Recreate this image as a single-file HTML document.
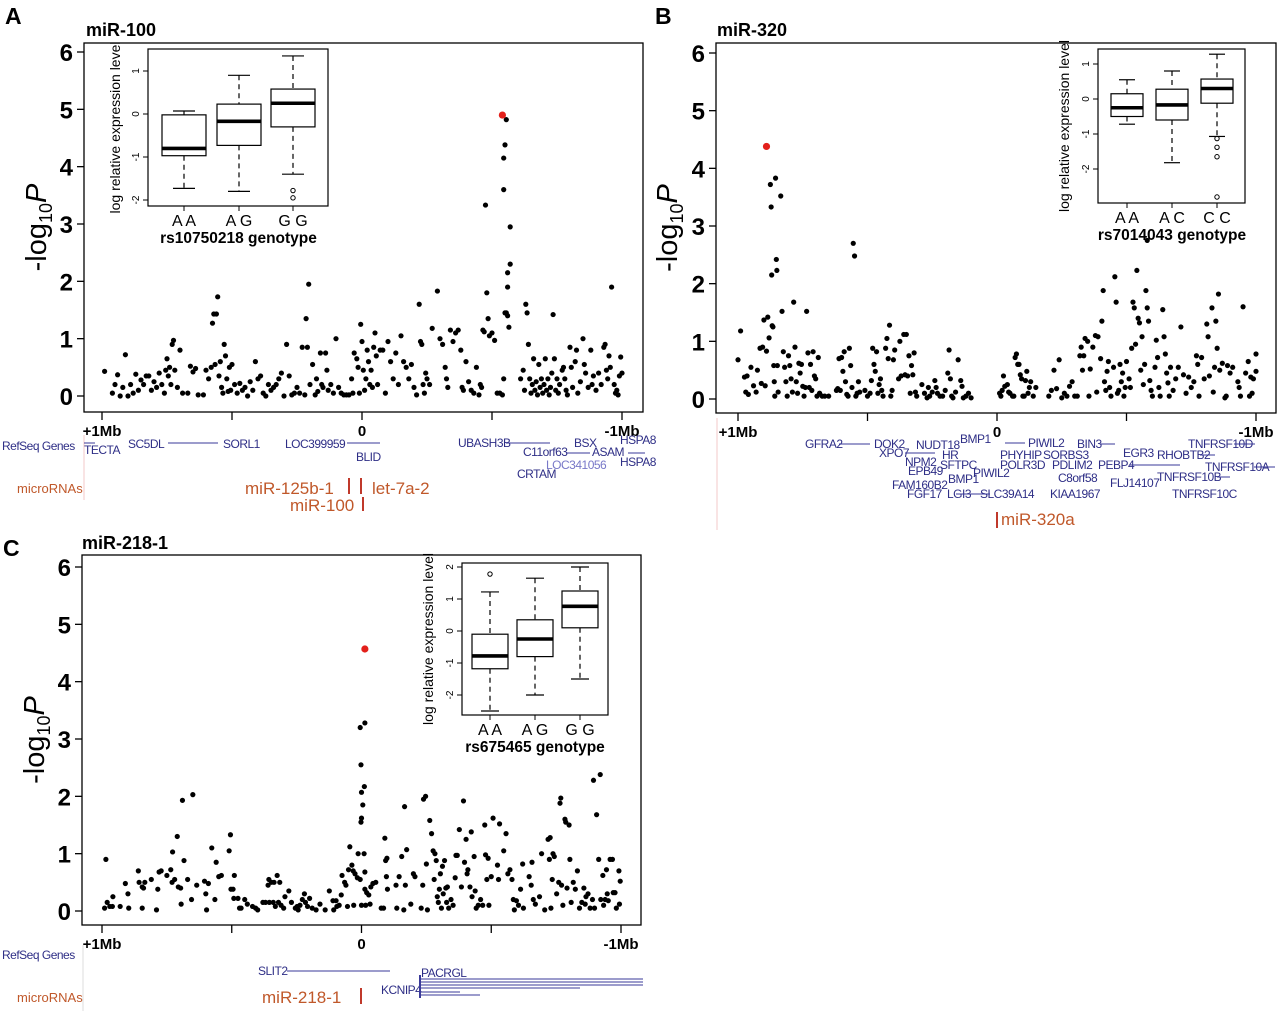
<!DOCTYPE html>
<html><head><meta charset="utf-8"><style>
html,body{margin:0;padding:0;background:#fff;}
svg{display:block;font-family:"Liberation Sans",sans-serif;}
.gene{fill:#2e2e86;font-size:12px;letter-spacing:-0.5px;}
.mir{fill:#c0582a;}
.tick{font-weight:bold;font-size:24px;}
.xl{font-weight:bold;font-size:15px;}
</style></head><body>
<svg id="fig" width="1280" height="1011" viewBox="0 0 1280 1011"></svg>
<script>
// ---- Panel A data: [position Mb, -log10P] ----
const panelAPoints=[[0.99,0.43],[0.96,0.05],[0.95,0.2],[0.94,0.37],[0.93,0.0],[0.92,0.15],[0.91,0.72],[0.9,0.0],[0.89,0.2],[0.88,0.05],[0.87,0.38],[0.86,0.1],[0.85,0.28],[0.84,0.2],[0.83,0.35],[0.82,0.35],[0.81,0.1],[0.80,0.25],[0.79,0.15],[0.78,0.4],[0.77,0.2],[0.76,0.05],[0.755,0.45],[0.75,0.65],[0.745,0.35],[0.74,0.5],[0.735,0.2],[0.73,0.9],[0.725,0.97],[0.72,0.45],[0.71,0.15],[0.70,0.8],[0.69,0.05],[0.67,0.05],[0.66,0.52],[0.65,0.42],[0.64,0.48],[0.63,0.02],[0.61,0.02],[0.60,0.45],[0.59,0.3],[0.58,0.5],[0.575,1.27],[0.57,1.43],[0.565,0.55],[0.56,1.43],[0.555,1.73],[0.55,0.35],[0.545,0.6],[0.54,0.15],[0.535,0.05],[0.53,0.9],[0.525,0.7],[0.52,0.3],[0.515,0.08],[0.51,0.5],[0.505,0.1],[0.50,0.55],[0.49,0.2],[0.48,0.05],[0.47,0.22],[0.46,0.1],[0.45,0.15],[0.44,0.0],[0.43,0.25],[0.42,0.1],[0.41,0.6],[0.40,0.3],[0.39,0.35],[0.38,0.05],[0.37,0.0],[0.36,0.2],[0.35,0.1],[0.34,0.15],[0.33,0.2],[0.32,0.3],[0.31,0.4],[0.30,0.0],[0.29,0.9],[0.28,0.35],[0.27,0.02],[0.26,0.05],[0.25,0.15],[0.24,0.05],[0.23,0.85],[0.22,0.02],[0.215,1.35],[0.21,0.85],[0.205,1.95],[0.20,0.2],[0.19,0.55],[0.18,0.02],[0.175,0.3],[0.17,0.08],[0.16,0.75],[0.155,0.2],[0.15,0.15],[0.14,0.75],[0.135,0.45],[0.13,0.1],[0.12,0.2],[0.11,0.05],[0.10,1.0],[0.09,0.15],[0.08,0.05],[0.07,0.02],[0.06,0.02],[0.05,0.02],[0.04,0.3],[0.035,0.05],[0.03,0.75],[0.02,0.65],[0.015,0.5],[0.01,0.05],[0.005,1.25],[0.0,0.95],[-0.005,0.45],[-0.01,0.1],[-0.015,0.3],[-0.02,0.8],[-0.025,0.6],[-0.03,0.2],[-0.035,0.45],[-0.04,0.15],[-0.045,0.85],[-0.05,1.1],[-0.055,0.7],[-0.06,0.2],[-0.07,0.8],[-0.08,0.8],[-0.09,0.05],[-0.10,0.95],[-0.11,0.6],[-0.12,0.3],[-0.13,0.75],[-0.14,0.2],[-0.15,1.05],[-0.16,0.6],[-0.17,0.5],[-0.18,0.3],[-0.19,0.55],[-0.20,0.15],[-0.21,0.02],[-0.22,1.6],[-0.225,0.95],[-0.23,0.9],[-0.235,0.2],[-0.24,0.05],[-0.245,0.4],[-0.25,0.3],[-0.26,0.2],[-0.27,1.18],[-0.29,1.83],[-0.30,1.0],[-0.31,0.9],[-0.32,0.5],[-0.325,0.3],[-0.33,0.15],[-0.34,1.15],[-0.35,0.95],[-0.36,1.1],[-0.37,1.15],[-0.38,0.8],[-0.385,0.15],[-0.39,0.1],[-0.40,0.6],[-0.41,0.25],[-0.42,0.1],[-0.43,0.05],[-0.44,0.5],[-0.45,0.02],[-0.455,0.2],[-0.46,0.15],[-0.465,1.15],[-0.47,1.12],[-0.475,3.33],[-0.48,1.8],[-0.485,1.35],[-0.49,1.05],[-0.50,1.1],[-0.51,0.97],[-0.52,0.05],[-0.53,0.05],[-0.54,0.02],[-0.545,0.3],[-0.55,1.45],[-0.555,1.45],[-0.56,1.9],[-0.545,3.6],[-0.545,4.15],[-0.55,4.38],[-0.56,1.4],[-0.56,2.15],[-0.555,4.82],[-0.57,2.3],[-0.565,1.2],[-0.57,2.95],[-0.61,0.3],[-0.62,0.45],[-0.625,0.1],[-0.63,1.6],[-0.635,1.45],[-0.64,0.9],[-0.645,0.3],[-0.65,0.05],[-0.655,0.2],[-0.66,0.65],[-0.665,0.1],[-0.67,0.25],[-0.675,0.02],[-0.68,0.55],[-0.685,0.15],[-0.69,0.3],[-0.695,0.05],[-0.70,0.2],[-0.705,0.65],[-0.71,0.1],[-0.715,0.3],[-0.72,0.02],[-0.725,0.15],[-0.73,0.4],[-0.735,1.42],[-0.74,0.65],[-0.745,0.1],[-0.75,0.3],[-0.755,0.05],[-0.76,0.2],[-0.77,0.45],[-0.775,0.5],[-0.78,0.3],[-0.785,0.1],[-0.79,0.02],[-0.80,0.85],[-0.805,0.5],[-0.81,0.15],[-0.82,0.6],[-0.825,0.8],[-0.83,0.05],[-0.84,0.25],[-0.85,1.0],[-0.855,0.55],[-0.86,0.4],[-0.87,0.15],[-0.88,0.8],[-0.885,0.2],[-0.89,0.35],[-0.90,0.1],[-0.91,0.4],[-0.92,0.2],[-0.93,0.85],[-0.935,0.9],[-0.94,0.45],[-0.945,0.3],[-0.95,0.7],[-0.955,0.5],[-0.96,1.9],[-0.97,0.2],[-0.975,0.05],[-0.98,0.1],[-0.985,0.02],[-0.99,0.35],[-0.995,0.68],[-1.0,0.4]];
const panelALead=[-0.54,4.9];
// ---- Panel B data ----
const panelBPoints=[[1.0,0.68],[0.99,1.18],[0.975,0.38],[0.97,0.12],[0.965,0.4],[0.96,0.08],[0.95,0.55],[0.94,0.23],[0.93,0.12],[0.925,0.5],[0.915,0.88],[0.91,0.27],[0.905,0.9],[0.9,1.37],[0.895,0.23],[0.89,0.83],[0.885,1.42],[0.88,1.06],[0.875,3.72],[0.872,3.33],[0.87,2.15],[0.868,1.27],[0.865,1.25],[0.862,0.58],[0.86,0.3],[0.858,0.05],[0.855,3.83],[0.852,2.42],[0.85,2.23],[0.848,0.58],[0.845,0.12],[0.835,3.52],[0.83,1.52],[0.825,0.82],[0.82,0.55],[0.815,0.3],[0.81,0.05],[0.805,0.75],[0.80,0.58],[0.795,0.35],[0.79,0.12],[0.785,1.68],[0.78,0.9],[0.775,0.3],[0.77,0.1],[0.765,0.62],[0.76,0.45],[0.755,0.6],[0.75,0.22],[0.745,0.05],[0.74,0.2],[0.735,1.52],[0.73,0.8],[0.725,0.2],[0.72,0.6],[0.715,0.15],[0.71,0.82],[0.705,0.4],[0.70,0.35],[0.695,0.05],[0.69,0.72],[0.685,0.1],[0.675,0.05],[0.665,0.05],[0.65,0.05],[0.62,0.15],[0.615,0.18],[0.61,0.7],[0.605,0.15],[0.60,0.72],[0.595,0.48],[0.59,0.82],[0.585,0.3],[0.58,0.08],[0.575,0.05],[0.57,0.88],[0.565,0.58],[0.56,0.2],[0.555,2.7],[0.55,2.48],[0.545,0.05],[0.54,0.1],[0.535,0.3],[0.53,0.12],[0.51,0.15],[0.50,0.05],[0.49,0.1],[0.485,0.32],[0.48,0.88],[0.475,0.6],[0.47,0.48],[0.465,0.82],[0.46,0.1],[0.455,0.25],[0.45,0.35],[0.445,0.15],[0.44,0.05],[0.43,0.88],[0.425,1.05],[0.42,0.7],[0.415,1.28],[0.41,0.05],[0.405,0.15],[0.40,0.68],[0.395,0.85],[0.38,0.35],[0.375,1.0],[0.37,0.4],[0.36,1.12],[0.355,0.42],[0.35,1.12],[0.345,0.4],[0.34,0.75],[0.335,0.1],[0.33,0.58],[0.325,0.42],[0.32,0.8],[0.315,0.12],[0.31,0.05],[0.29,0.25],[0.28,0.1],[0.27,0.02],[0.265,0.2],[0.26,0.05],[0.25,0.12],[0.24,0.32],[0.235,0.2],[0.23,0.1],[0.22,0.05],[0.21,0.05],[0.20,0.15],[0.19,0.45],[0.185,0.85],[0.18,0.35],[0.175,0.05],[0.17,0.02],[0.16,0.12],[0.15,0.68],[0.14,0.32],[0.135,0.22],[0.13,0.02],[0.12,0.05],[0.11,0.1],[0.10,0.02],[-0.01,0.1],[-0.015,0.05],[-0.02,0.15],[-0.025,0.4],[-0.03,0.22],[-0.04,0.25],[-0.045,0.12],[-0.05,0.1],[-0.06,0.05],[-0.065,0.05],[-0.07,0.72],[-0.075,0.78],[-0.08,0.6],[-0.085,0.6],[-0.09,0.42],[-0.095,0.35],[-0.10,0.05],[-0.105,0.05],[-0.11,0.32],[-0.115,0.48],[-0.12,0.1],[-0.125,0.2],[-0.13,0.3],[-0.14,0.05],[-0.15,0.2],[-0.2,0.05],[-0.21,0.15],[-0.22,0.5],[-0.23,0.18],[-0.24,0.68],[-0.25,0.02],[-0.26,0.1],[-0.27,0.05],[-0.28,0.22],[-0.29,0.3],[-0.30,0.05],[-0.31,0.05],[-0.32,0.75],[-0.325,0.9],[-0.33,0.5],[-0.335,0.75],[-0.34,1.05],[-0.35,1.0],[-0.355,0.05],[-0.36,0.52],[-0.37,0.9],[-0.38,1.1],[-0.385,0.12],[-0.39,1.08],[-0.40,0.7],[-0.405,1.35],[-0.41,1.88],[-0.415,0.3],[-0.42,0.15],[-0.425,0.48],[-0.43,0.65],[-0.435,0.2],[-0.44,0.05],[-0.45,0.55],[-0.455,2.12],[-0.46,1.68],[-0.465,0.1],[-0.47,0.15],[-0.475,0.6],[-0.48,0.3],[-0.485,0.45],[-0.49,0.05],[-0.495,0.2],[-0.50,0.65],[-0.51,0.35],[-0.515,0.2],[-0.52,0.88],[-0.525,1.68],[-0.53,1.58],[-0.535,0.95],[-0.54,2.23],[-0.545,1.4],[-0.55,1.32],[-0.555,0.5],[-0.56,1.08],[-0.565,0.25],[-0.57,0.6],[-0.575,1.88],[-0.58,1.58],[-0.585,1.35],[-0.59,0.32],[-0.595,0.15],[-0.60,0.05],[-0.61,0.55],[-0.615,1.02],[-0.62,0.72],[-0.625,0.2],[-0.63,0.05],[-0.64,1.55],[-0.645,1.08],[-0.65,0.78],[-0.655,0.45],[-0.66,0.28],[-0.665,0.05],[-0.67,0.55],[-0.68,0.15],[-0.69,0.35],[-0.70,0.55],[-0.71,1.25],[-0.72,0.42],[-0.73,0.1],[-0.74,0.38],[-0.75,0.2],[-0.76,0.3],[-0.77,0.75],[-0.775,0.6],[-0.78,0.05],[-0.79,0.72],[-0.80,0.35],[-0.81,1.3],[-0.815,1.08],[-0.82,0.4],[-0.83,1.58],[-0.835,0.12],[-0.84,0.55],[-0.845,1.35],[-0.85,0.88],[-0.855,1.82],[-0.86,0.5],[-0.87,0.62],[-0.88,0.02],[-0.885,0.05],[-0.89,0.58],[-0.9,0.45],[-0.91,0.55],[-0.93,0.3],[-0.935,0.2],[-0.94,0.05],[-0.95,1.6],[-0.96,0.45],[-0.97,0.65],[-0.975,0.05],[-0.98,0.38],[-0.985,0.1],[-0.99,0.35],[-1.0,0.48],[-1.0,0.78],[-0.58,2.75]];
const panelBLead=[0.89,4.38];
// ---- Panel C data ----
const panelCPoints=[[0.99,0.05],[0.985,0.9],[0.98,0.15],[0.97,0.08],[0.96,0.08],[0.958,0.25],[0.93,0.08],[0.91,0.48],[0.9,0.3],[0.897,0.05],[0.86,0.7],[0.857,0.5],[0.845,0.42],[0.84,0.4],[0.835,0.5],[0.845,0.05],[0.81,0.55],[0.79,0.02],[0.785,0.38],[0.78,0.68],[0.772,0.7],[0.75,0.62],[0.735,0.72],[0.73,0.5],[0.728,1.03],[0.72,0.55],[0.71,1.3],[0.706,0.42],[0.695,0.12],[0.69,1.93],[0.684,0.88],[0.697,0.4],[0.67,0.55],[0.655,0.2],[0.65,2.03],[0.635,0.45],[0.605,0.52],[0.6,0.3],[0.597,0.02],[0.59,0.48],[0.577,1.1],[0.565,0.2],[0.56,0.85],[0.55,0.6],[0.54,0.62],[0.51,1.05],[0.505,1.33],[0.503,0.38],[0.495,0.38],[0.49,0.62],[0.492,0.22],[0.476,0.22],[0.47,0.05],[0.464,0.05],[0.45,0.2],[0.44,0.12],[0.42,0.08],[0.408,0.05],[0.4,0.02],[0.38,0.15],[0.37,0.15],[0.36,0.45],[0.357,0.55],[0.355,0.15],[0.347,0.5],[0.34,0.15],[0.337,0.5],[0.332,0.08],[0.325,0.62],[0.32,0.15],[0.315,0.5],[0.31,0.1],[0.3,0.05],[0.295,0.25],[0.28,0.35],[0.27,0.15],[0.255,0.05],[0.248,0.08],[0.244,0.02],[0.237,0.1],[0.228,0.2],[0.22,0.3],[0.216,0.15],[0.208,0.08],[0.2,0.22],[0.19,0.05],[0.175,0.02],[0.16,0.12],[0.14,0.02],[0.124,0.35],[0.11,0.18],[0.107,0.02],[0.098,0.18],[0.095,0.08],[0.086,0.1],[0.078,0.28],[0.075,0.62],[0.065,0.5],[0.06,0.45],[0.054,0.08],[0.05,0.72],[0.045,1.12],[0.037,0.8],[0.032,0.7],[0.03,0.1],[0.025,0.65],[0.016,0.58],[0.013,1.0],[0.005,0.55],[0.0,0.1],[0.005,3.2],[-0.013,3.28],[0.002,2.55],[0.0,2.07],[-0.011,2.17],[-0.005,1.85],[0.0,1.62],[0.002,1.55],[-0.01,1.0],[-0.013,0.68],[-0.016,0.1],[-0.013,0.38],[-0.02,0.32],[-0.028,0.28],[-0.036,0.42],[-0.033,0.12],[-0.044,0.48],[-0.055,0.5],[-0.076,0.05],[-0.085,0.05],[-0.09,1.27],[-0.093,0.88],[-0.096,0.6],[-0.098,0.92],[-0.1,0.38],[-0.133,0.45],[-0.136,0.05],[-0.145,0.6],[-0.155,0.95],[-0.163,0.02],[-0.166,1.82],[-0.169,0.45],[-0.174,1.07],[-0.19,0.12],[-0.2,0.65],[-0.206,0.6],[-0.23,0.05],[-0.236,0.45],[-0.239,1.95],[-0.247,2.0],[-0.25,0.82],[-0.254,0.02],[-0.263,1.58],[-0.27,1.35],[-0.276,1.05],[-0.28,0.55],[-0.283,1.0],[-0.288,0.88],[-0.292,0.25],[-0.296,0.15],[-0.3,0.38],[-0.304,0.65],[-0.308,0.05],[-0.312,0.78],[-0.315,0.3],[-0.32,0.88],[-0.325,0.4],[-0.328,0.15],[-0.331,0.42],[-0.336,0.05],[-0.345,0.2],[-0.353,0.1],[-0.361,0.58],[-0.364,0.97],[-0.369,0.97],[-0.377,1.42],[-0.385,0.42],[-0.393,1.92],[-0.397,0.85],[-0.403,1.25],[-0.407,0.65],[-0.41,0.72],[-0.418,0.42],[-0.423,1.38],[-0.426,0.25],[-0.434,0.95],[-0.438,0.35],[-0.442,0.05],[-0.45,0.1],[-0.459,0.2],[-0.467,0.1],[-0.475,1.5],[-0.478,0.98],[-0.483,0.55],[-0.488,0.92],[-0.491,0.1],[-0.5,0.6],[-0.507,1.62],[-0.524,0.8],[-0.528,0.55],[-0.532,1.52],[-0.548,1.05],[-0.557,1.35],[-0.564,0.65],[-0.572,0.72],[-0.58,0.55],[-0.585,0.2],[-0.589,0.02],[-0.597,0.18],[-0.605,0.1],[-0.613,0.38],[-0.621,0.82],[-0.624,0.05],[-0.646,0.6],[-0.654,0.45],[-0.657,0.85],[-0.662,0.2],[-0.67,0.12],[-0.686,0.25],[-0.694,1.0],[-0.706,0.02],[-0.719,1.25],[-0.724,0.9],[-0.727,1.28],[-0.73,0.05],[-0.735,0.55],[-0.738,1.0],[-0.743,0.95],[-0.752,0.3],[-0.76,0.5],[-0.765,1.88],[-0.768,1.97],[-0.771,0.45],[-0.776,0.1],[-0.784,1.6],[-0.787,1.55],[-0.792,0.4],[-0.8,1.5],[-0.803,0.9],[-0.808,0.15],[-0.816,0.5],[-0.824,0.38],[-0.832,0.7],[-0.84,0.05],[-0.849,0.15],[-0.857,0.4],[-0.862,0.12],[-0.865,0.25],[-0.873,0.3],[-0.881,0.05],[-0.89,0.2],[-0.894,2.28],[-0.898,0.05],[-0.906,1.68],[-0.914,0.9],[-0.92,2.38],[-0.922,0.2],[-0.93,0.62],[-0.933,0.1],[-0.939,0.2],[-0.944,0.72],[-0.947,0.3],[-0.951,0.18],[-0.958,0.9],[-0.967,0.9],[-0.97,0.32],[-0.977,0.32],[-0.982,0.05],[-0.992,0.7],[-0.994,0.12],[-0.997,0.52]];
const panelCLead=[-0.013,4.57];
// ---- Inset boxplot data: [lowerWhisker, Q1, median, Q3, upperWhisker] ----
const aGenotypes=["AA","AG","GG"];
const aBoxStats=[[-1.73,-0.97,-0.8,-0.02,0.07],[-1.8,-0.73,-0.17,0.23,0.9],[-1.4,-0.3,0.25,0.58,1.35]];
const aOutliers=[[],[],[-1.78,-1.95]];
const bGenotypes=["AA","AC","CC"];
const bBoxStats=[[-0.72,-0.5,-0.25,0.15,0.55],[-1.82,-0.6,-0.17,0.28,0.8],[-1.07,-0.12,0.3,0.57,1.28]];
const bOutliers=[[],[],[-1.13,-1.38,-1.65,-2.8]];
const cGenotypes=["AA","AG","GG"];
const cBoxStats=[[-2.5,-1.18,-0.78,-0.1,1.22],[-2.0,-0.8,-0.25,0.35,1.65],[-1.5,0.1,0.77,1.25,2.0]];
const cOutliers=[[1.78],[],[]];
const yTickLabels=["0","1","2","3","4","5","6"];
const xTickLabels=["+1Mb","0","-1Mb"];

const NS="http://www.w3.org/2000/svg";
const svg=document.getElementById('fig');
function mk(tag,attrs,parent){const e=document.createElementNS(NS,tag);for(const k in attrs)e.setAttribute(k,attrs[k]);(parent||svg).appendChild(e);return e;}
function txt(x,y,s,attrs,parent){const t=mk('text',Object.assign({x:x,y:y},attrs||{}),parent);t.textContent=s;return t;}

function drawPanel(P){
  const g=mk('g',{});
  
  
  const sx=mb=>P.x1+(1-mb)/2*(P.x2-P.x1);
  const sy=v=>P.y0-v*(P.y0-P.y6)/6;
  const frame=mk('rect',{x:P.bx1,y:P.by1,width:P.bx2-P.bx1,height:P.by2-P.by1,fill:'none',stroke:'#000','stroke-width':1.3},g);
  
  
  yTickLabels.forEach((lab,i)=>{
    const y=sy(i);
    mk('line',{x1:P.bx1-7,x2:P.bx1,y1:y,y2:y,stroke:'#000','stroke-width':1.3},g);
    const t=txt(P.bx1-11,y+9,lab,{'text-anchor':'end',class:'tick'},g);
    
    
  });
  [1,0.5,0,-0.5,-1].forEach(m=>{mk('line',{x1:sx(m),x2:sx(m),y1:P.by2,y2:P.by2+8,stroke:'#000','stroke-width':1.3},g);});
  [1,0,-1].forEach((m,i)=>{
    const t=txt(sx(m),P.by2+24,xTickLabels[i],{'text-anchor':'middle',class:'xl'},g);
    
    
  });
  const yt=txt(0,0,'-log',{transform:`translate(${P.ytx},${(P.by1+P.by2)/2}) rotate(-90)`,'text-anchor':'middle','font-size':'29px'},g);
  const sub=mk('tspan',{'font-size':'18px',dy:'6'},yt);sub.textContent='10';
  const pp=mk('tspan',{'font-style':'italic',dy:'-6'},yt);pp.textContent='P';
  
  
  P.pts.forEach(p=>{
    const c=mk('circle',{cx:sx(p[0]),cy:sy(p[1]),r:2.6,fill:'#000'},g);
    
    
  });
  const lead=mk('circle',{cx:sx(P.lead[0]),cy:sy(P.lead[1]),r:3.6,fill:'#e3201b'},g);
  
  
  const I=P.inset;
  const ig=mk('g',{},g);
  
  
  mk('rect',{x:I.x1,y:I.y1,width:I.x2-I.x1,height:I.y2-I.y1,fill:'#fff',stroke:'#000','stroke-width':1.2},ig);
  const iy=v=>I.zy-v*I.ppu;
  I.ticks.forEach(v=>{
    mk('line',{x1:I.x1-5,x2:I.x1,y1:iy(v),y2:iy(v),stroke:'#000','stroke-width':1},ig);
    txt(I.x1-9,iy(v),String(v),{transform:`rotate(-90 ${I.x1-9} ${iy(v)})`,'text-anchor':'middle','font-size':'10px'},ig);
  });
  const yl=txt(0,0,'log relative expression level',{transform:`translate(${I.labx},${(I.y1+I.y2)/2}) rotate(-90)`,'text-anchor':'middle','font-size':'14px'},ig);
  
  
  I.stats.forEach((s,i)=>{
    const cx=I.cx[i],hw=I.hw;
    const bg=mk('g',{},ig);
    
    
    mk('line',{x1:cx,x2:cx,y1:iy(s[4]),y2:iy(s[3]),stroke:'#000','stroke-width':1.2,'stroke-dasharray':'5,4'},bg);
    mk('line',{x1:cx,x2:cx,y1:iy(s[1]),y2:iy(s[0]),stroke:'#000','stroke-width':1.2,'stroke-dasharray':'5,4'},bg);
    mk('line',{x1:cx-hw/2,x2:cx+hw/2,y1:iy(s[4]),y2:iy(s[4]),stroke:'#000','stroke-width':1.2},bg);
    mk('line',{x1:cx-hw/2,x2:cx+hw/2,y1:iy(s[0]),y2:iy(s[0]),stroke:'#000','stroke-width':1.2},bg);
    mk('rect',{x:cx-hw,y:iy(s[3]),width:2*hw,height:iy(s[1])-iy(s[3]),fill:'#fff',stroke:'#000','stroke-width':1.2},bg);
    mk('line',{x1:cx-hw,x2:cx+hw,y1:iy(s[2]),y2:iy(s[2]),stroke:'#000','stroke-width':3.6},bg);
    I.outs[i].forEach(o=>mk('circle',{cx:cx,cy:iy(o),r:2.2,fill:'none',stroke:'#000','stroke-width':1},bg));
    mk('line',{x1:cx,x2:cx,y1:I.y2,y2:I.y2+5,stroke:'#000','stroke-width':1},ig);
    const cl=txt(cx,I.y2+20,I.cats[i].split('').join(' '),{'text-anchor':'middle','font-size':'16px'},ig);
    
    
  });
  const gt=txt((I.cx[0]+I.cx[2])/2,I.y2+37,I.snp+'  genotype',{'text-anchor':'middle','font-size':'15.5px','font-weight':'bold','xml:space':'preserve'},ig);
  
  
}

drawPanel({name:'mir-100',bx1:84,bx2:643,by1:43,by2:412,x1:102,x2:622,y0:396,y6:52,ytx:46,pts:panelAPoints,lead:panelALead,
  inset:{x1:148,x2:328,y1:49,y2:206,zy:114,ppu:43,ticks:[1,0,-1,-2],labx:120,cx:[184,239,293],hw:22,stats:aBoxStats,outs:aOutliers,cats:aGenotypes,snp:'rs10750218'}});
drawPanel({name:'mir-320',bx1:716,bx2:1276,by1:43,by2:413,x1:738,x2:1256,y0:399,y6:53,ytx:677,pts:panelBPoints,lead:panelBLead,
  inset:{x1:1098,x2:1245,y1:49,y2:203,zy:99,ppu:35,ticks:[1,0,-1,-2],labx:1069,cx:[1127,1172,1217],hw:16,stats:bBoxStats,outs:bOutliers,cats:bGenotypes,snp:'rs7014043'}});
drawPanel({name:'mir-218-1',bx1:82,bx2:641,by1:555,by2:925,x1:102,x2:621,y0:911,y6:567,ytx:44,pts:panelCPoints,lead:panelCLead,
  inset:{x1:462,x2:608,y1:563,y2:715,zy:631,ppu:32,ticks:[2,1,0,-1,-2],labx:433,cx:[490,535,580],hw:18,stats:cBoxStats,outs:cOutliers,cats:cGenotypes,snp:'rs675465'}});

[[5,24,'A'],[655,24,'B'],[3,556,'C']].forEach(a=>{const t=txt(a[0],a[1],a[2],{'font-size':'23px','font-weight':'bold'});});
[[86,36,'miR-100'],[717,36,'miR-320'],[82,549,'miR-218-1']].forEach(a=>{const t=txt(a[0],a[1],a[2],{'font-size':'18px','font-weight':'bold'});});

function track(label,x,y,cls,size){const t=txt(x,y,label,{class:cls,'font-size':size+'px'});return t;}
track('RefSeq Genes',2,450,'gene',14);track('microRNAs',17,493,'mir',13);
track('RefSeq Genes',2,959,'gene',14);track('microRNAs',17,1002,'mir',13);
mk('line',{x1:84,x2:84,y1:435,y2:500,stroke:'#f3c8c8','stroke-width':1});
mk('line',{x1:717,x2:717,y1:418,y2:530,stroke:'#f3c8c8','stroke-width':1});
mk('line',{x1:83,x2:83,y1:945,y2:1011,stroke:'#ddd','stroke-width':1});
const geneLabels=[['TECTA',84,454],['SC5DL',128,448],['SORL1',223,448],['LOC399959',285,448],['BLID',356,461],['UBASH3B',458,447],['BSX',574,447],['HSPA8',620,444],['C11orf63',523,456],['ASAM',592,456],['HSPA8',620,466],['CRTAM',517,478],
['GFRA2',805,448],['DOK2',874,448],['XPO7',879,457],['NUDT18',916,449],['BMP1',960,443],['HR',942,459],['NPM2',905,466],['SFTPC',940,469],['EPB49',908,475],['BMP1',948,483],['PIWIL2',973,477],['FAM160B2',892,489],['FGF17',907,498],['LGI3',947,498],['PHYHIP',1000,459],['POLR3D',1000,469],['PIWIL2',1028,447],['SORBS3',1043,459],['PDLIM2',1052,469],['SLC39A14',980,498],['KIAA1967',1050,498],['C8orf58',1058,482],['BIN3',1077,448],['EGR3',1123,457],['PEBP4',1098,469],['FLJ14107',1110,487],['RHOBTB2',1157,459],['TNFRSF10D',1188,448],['TNFRSF10A',1205,471],['TNFRSF10B',1157,481],['TNFRSF10C',1172,498],
['SLIT2',258,975],['PACRGL',421,977],['KCNIP4',381,994]];
geneLabels.forEach(g=>{const t=txt(g[1],g[2],g[0],{class:'gene'});});
const lc=txt(546,469,'LOC341056',{class:'gene'});lc.setAttribute('style','fill:#7878c8');


const geneLines=[[84,95,443],[168,218,443],[347,380,443],[506,550,443],[566,590,453],[628,645,453],[839,870,444],[905,935,453],[1005,1025,443],[1100,1115,444],[1130,1180,465],[1200,1215,455],[1234,1255,444],[1254,1275,467],[1217,1230,477],[956,990,494],[287,390,971],[420,643,979],[420,643,982],[420,643,985],[420,580,988],[420,460,992],[420,480,995]];
geneLines.forEach(l=>{const e=mk('line',{x1:l[0],x2:l[1],y1:l[2],y2:l[2],stroke:'#3a3a9a','stroke-width':1});});
mk('line',{x1:420,x2:420,y1:975,y2:998,stroke:'#3a3a9a','stroke-width':2});
[['miR-125b-1',245,494],['let-7a-2',372,494],['miR-100',290,511],['miR-320a',1001,525],['miR-218-1',262,1003]].forEach(m=>{const t=txt(m[1],m[2],m[0],{class:'mir','font-size':'17px'});});
[[349,478,494],[361,478,494],[363,497,511],[997,512,528],[361,988,1004]].forEach(b=>{const e=mk('line',{x1:b[0],x2:b[0],y1:b[1],y2:b[2],stroke:'#c0392b','stroke-width':2});});
</script>
</body></html>
